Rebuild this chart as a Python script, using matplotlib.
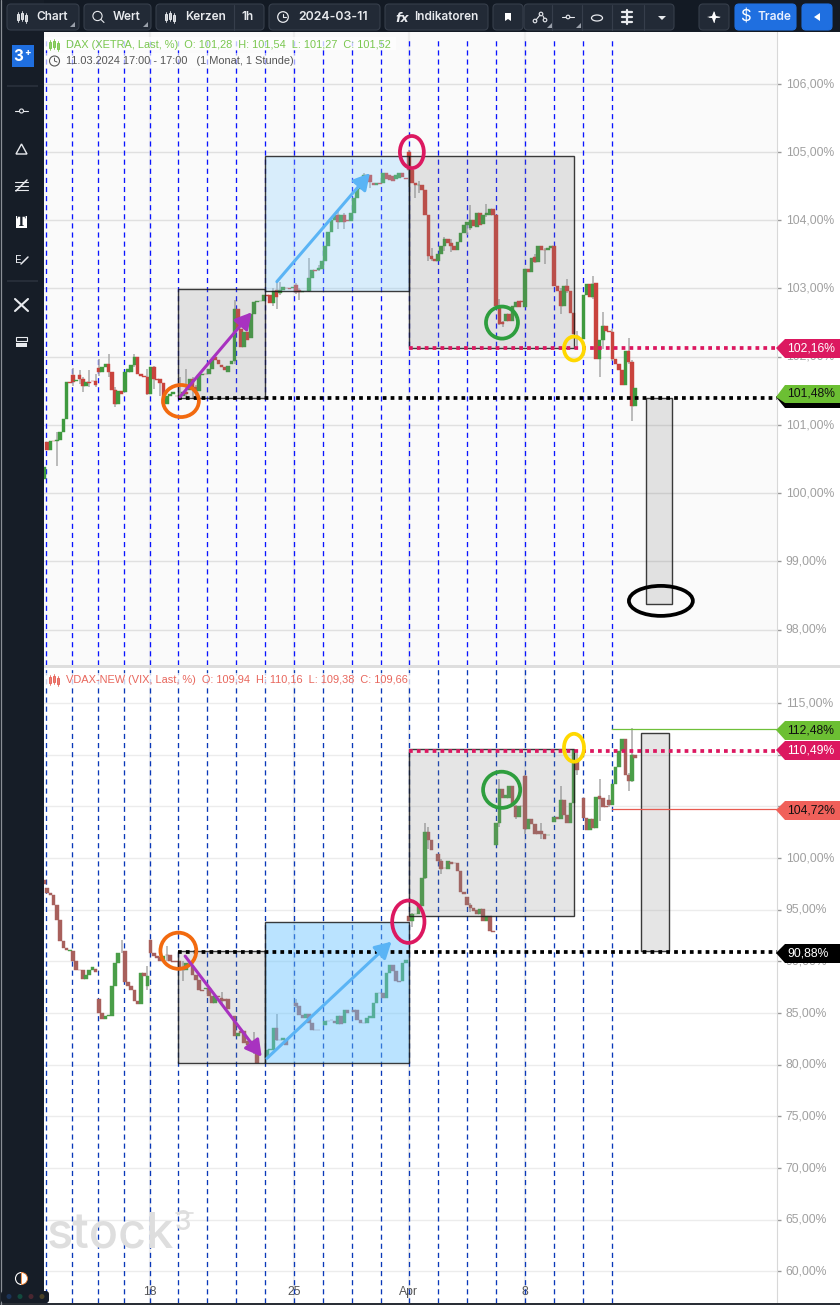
import matplotlib
matplotlib.use("Agg")
import matplotlib.pyplot as plt
from matplotlib.patches import Rectangle, Ellipse, FancyBboxPatch, Polygon, Circle, Wedge
from matplotlib.transforms import ScaledTranslation

plt.rcParams['font.family'] = ['Liberation Sans', 'DejaVu Sans']

# ---------- DAX candles: (bar, open, close) in percent ----------
dax_part1 = [(0,100.21,100.38),(1,100.75,100.63),(2,100.63,100.77),(3,100.77,100.76),(4,100.76,100.78),(5,100.78,100.90),
 (6,100.90,101.09),(7,101.09,101.63),(8,101.63,101.62),(9,101.73,101.63),(10,101.65,101.66),(11,101.73,101.67),
 (12,101.67,101.57),(13,101.57,101.63),(14,101.63,101.62),(15,101.65,101.64),(16,101.65,101.58),(17,101.83,101.78),
 (18,101.78,101.85),(19,101.85,101.89),(20,101.89,101.78),(21,101.78,101.51),(22,101.51,101.30),(23,101.30,101.49),
 (24,101.49,101.46),(25,101.48,101.78),(26,101.78,101.82),(27,101.78,101.88),(28,101.88,102.00),(29,102.00,101.75),
 (30,101.75,101.72),(31,101.72,101.70),(32,101.70,101.46),(33,101.46,101.85),(34,101.85,101.67),(35,101.67,101.66),
 (36,101.67,101.62),(37,101.62,101.31),(38,101.31,101.42),(39,101.42,101.46),(40,101.46,101.48),(41,101.43,101.42),
 (42,101.43,101.44),(43,101.43,101.48),(44,101.48,101.46),(45,101.51,101.67),(46,101.67,101.56),(47,101.56,101.49),
 (48,101.49,101.73),(49,101.73,101.75),(50,101.75,101.74),(51,101.74,101.82),(52,101.82,101.95),(53,102.00,101.95),
 (54,101.95,101.90),(55,101.88,101.85),(56,101.85,101.80),(57,101.78,101.86),(58,101.90,101.93),(59,101.93,102.70),
 (60,102.70,102.41),(61,102.41,102.14),(62,102.14,102.36),(63,102.36,102.24),(64,102.28,102.62),(65,102.62,102.80),
 (66,102.80,102.81),(67,102.81,102.82),(68,102.81,102.90),(69,102.90,102.89),(70,102.90,102.78),(71,102.78,102.96),
 (72,102.98,102.88),(73,102.93,102.98),(74,102.98,103.02),(75,103.01,103.00),(76,103.00,102.99),(77,103.00,103.02),
 (78,103.05,102.95),(79,102.98,102.95),(80,102.95,102.96),(81,102.96,102.97),(82,102.97,103.15),(83,103.15,103.27),
 (84,103.27,103.26),(85,103.27,103.30),(86,103.29,103.41),(87,103.41,103.63),(88,103.63,103.83),(89,103.83,104.00),
 (90,104.00,104.07),(91,104.07,103.97),(92,103.97,104.07),(93,104.07,103.98),(94,104.00,103.99),(95,103.99,104.10),
 (96,104.10,104.32),(97,104.32,104.46),(98,104.46,104.54),(99,104.54,104.66),(100,104.66,104.65),(101,104.66,104.56),
 (102,104.54,104.52),(103,104.52,104.54),(104,104.54,104.53),(105,104.54,104.69),(106,104.69,104.60),(107,104.66,104.59),
 (108,104.65,104.58),(109,104.60,104.66),(110,104.62,104.69),(111,104.69,104.63),(112,104.62,104.61)]
dax_part2 = [(113,105.00,104.73),(114,104.73,104.54),(115,104.54,104.51),(116,104.51,104.52),(117,104.51,104.45),
 (118,104.45,104.08),(119,104.08,103.48),(120,103.48,103.43),(121,103.43,103.41),(122,103.40,103.51),(123,103.51,103.63),
 (124,103.63,103.72),(125,103.72,103.66),(126,103.66,103.63),(127,103.63,103.56),(128,103.56,103.68),(129,103.68,103.82),
 (130,103.82,103.93),(131,103.93,103.97),(132,103.89,104.00),(133,104.00,103.92),(134,103.90,104.10),(135,104.10,103.93),
 (136,103.95,104.08),(137,104.07,104.10),(138,104.08,104.17),(139,104.17,104.08),(140,104.08,102.75),(141,102.75,102.48),
 (142,102.51,102.48),(143,102.52,102.63),(144,102.63,102.53),(145,102.53,102.75),(146,102.73,102.80),(147,102.81,102.73),
 (148,102.81,102.80),(149,102.73,103.28),(150,103.28,103.24),(151,103.24,103.45),(152,103.46,103.39),(153,103.39,103.62),
 (154,103.62,103.57),(155,103.57,103.56),(156,103.56,103.60),(157,103.60,103.62),(158,103.62,103.04),(159,103.04,102.97),
 (160,102.97,102.75),(161,102.75,103.03),(162,103.03,102.96),(163,102.96,102.64),(164,102.64,102.33),(165,102.30,102.28),
 (166,102.26,102.27),(167,102.26,102.91),(168,102.91,103.07),(169,103.07,102.87),(170,102.87,103.07),(171,103.08,101.97),
 (172,101.97,102.24),(173,102.24,102.45),(174,102.45,102.38),(175,102.38,102.36),(176,102.36,101.97),(177,101.97,101.90),
 (178,101.90,101.80),(179,101.80,101.59),(180,101.59,102.08),(181,102.08,101.92),(182,101.92,101.27),(183,101.27,101.54)]
# (bar, low, high)
dax_wicks = [(4,100.40,100.90),(9,101.57,101.83),(11,101.60,101.80),(12,101.48,101.70),(14,101.55,101.80),(16,101.55,101.75),
 (17,101.72,101.97),(20,101.70,102.04),(22,101.26,101.55),(28,101.85,102.04),(32,101.44,101.82),(34,101.52,101.87),
 (36,101.43,101.66),(42,101.40,101.70),(44,101.39,101.82),(46,101.38,101.70),(47,101.42,101.58),(59,101.90,102.83),
 (71,102.75,103.00),(72,102.70,103.10),(73,102.90,103.10),(78,102.92,103.08),(79,102.83,103.00),(82,102.95,103.44),
 (85,103.25,103.34),(91,103.87,104.15),(93,103.87,104.10),(99,104.50,104.70),(101,104.48,104.60),(113,104.49,105.03),
 (115,104.32,104.55),(116,104.40,104.58),(119,103.41,103.66),(120,103.41,103.60),(124,103.55,103.75),(126,103.54,103.73),
 (131,103.78,103.98),(132,103.85,104.22),(137,104.05,104.24),(141,102.46,102.85),(142,102.43,102.52),(152,103.38,103.50),
 (155,103.36,103.60),(160,102.63,103.00),(162,102.94,103.14),(165,102.16,102.38),(170,102.85,103.19),(172,101.70,102.00),
 (173,102.12,102.65),(176,101.93,102.40),(181,101.90,102.27),(182,101.05,101.95)]

# ---------- VDAX-NEW candles: (bar, open, close) in percent ----------
vdax_part1 = [(0,97.90,97.52),(1,97.10,96.61),(2,96.61,96.45),(3,96.45,95.45),(4,95.48,94.03),(5,94.03,91.94),(6,91.94,91.29),
 (7,91.29,91.13),(8,90.97,91.13),(9,90.97,90.00),(10,90.00,89.19),(11,89.19,89.15),(12,89.19,88.32),(13,88.32,88.71),
 (14,88.71,89.19),(15,89.19,89.42),(16,89.30,89.00),(17,86.35,85.00),(18,85.00,84.45),(19,84.45,84.68),(20,84.68,84.84),
 (21,84.68,87.58),(22,87.58,89.84),(23,89.84,90.81),(25,91.03,87.97),(26,87.97,87.58),(27,87.58,87.26),(28,87.26,86.13),
 (29,86.13,85.90),(30,85.90,88.87),(31,88.87,88.55),(32,87.58,88.55),(33,92.10,90.81),(34,90.81,90.48),(35,90.48,90.32),
 (36,90.42,90.00),(37,90.00,90.48),(38,90.65,90.60),(39,90.65,90.00),(40,90.00,89.95),(41,90.00,89.95),(42,90.00,89.19),
 (43,89.19,89.15),(44,89.19,89.84),(45,89.84,89.80),(46,89.52,88.71),(47,88.71,88.23),(48,88.23,87.26),(49,87.26,87.10),
 (50,87.35,87.42),(51,87.42,86.61),(52,86.61,85.97),(53,85.97,86.61),(54,86.61,86.55),(55,86.45,86.13),(56,86.35,86.13),
 (57,86.30,85.42),(59,84.68,82.74),(60,82.74,83.06),(61,83.23,83.06),(62,83.23,82.10),(63,82.26,81.94),(64,82.26,82.20),
 (65,82.10,81.29),(66,81.29,80.16),(69,80.65,81.45),(70,81.45,81.50),(71,81.45,83.55),(72,83.55,82.42),(73,82.42,82.40),
 (74,82.42,82.58),(75,82.42,81.94),(78,85.97,85.65),(79,85.65,84.84),(80,84.84,84.52),(81,84.52,84.90),(82,84.90,84.03),
 (83,84.03,83.39),(84,83.39,83.38),(85,83.39,83.38),(87,83.87,84.26),(88,84.26,84.20),(89,84.35,84.30),(90,84.20,84.03),
 (91,83.97,84.68),(92,84.68,83.97),(93,84.03,85.26),(94,85.26,85.00),(96,85.32,85.10),(97,85.32,84.35),(98,84.35,84.03),
 (99,84.03,84.00),(100,84.03,84.52),(101,84.52,84.68),(102,84.52,85.97),(103,85.97,86.94),(104,86.94,86.90),(105,86.94,86.45),
 (106,86.45,88.87),(107,88.87,89.68),(108,89.68,89.03),(109,89.03,88.06),(110,88.06,88.00),(111,88.06,89.84),(112,89.84,90.16)]
vdax_part2 = [(113,94.41,93.92),(114,93.92,94.57),(115,94.57,94.60),(116,94.57,95.37),(117,95.37,98.10),(118,98.10,102.51),
 (119,102.51,101.74),(120,101.74,100.77),(122,100.35,99.71),(123,99.71,98.97),(124,99.05,99.00),(125,98.97,99.71),
 (126,99.65,99.40),(127,99.55,99.50),(128,99.55,98.71),(129,98.71,96.72),(130,96.72,96.56),(131,96.20,95.45),(132,95.45,95.14),
 (133,95.20,94.87),(134,94.98,94.55),(135,94.55,95.05),(136,95.05,93.92),(137,93.92,94.41),(138,94.41,92.97),(139,92.97,92.80),
 (140,101.22,103.41),(141,103.41,106.69),(142,106.69,105.82),(143,105.82,106.14),(144,105.82,107.00),(145,107.00,105.05),
 (146,105.05,103.96),(147,103.96,105.05),(148,105.05,105.00),(149,107.97,102.77),(150,102.77,103.80),(151,103.80,103.26),
 (152,103.26,102.30),(153,102.60,102.30),(154,102.60,102.30),(155,102.30,101.80),(156,102.20,102.25),(158,103.50,103.96),
 (159,103.96,103.75),(160,103.80,105.66),(161,105.66,104.12),(162,104.12,103.41),(163,103.41,105.34),(164,105.34,110.48),
 (165,109.35,108.50),(167,105.80,103.87),(168,103.87,102.74),(169,102.74,103.80),(170,103.80,102.90),(171,102.90,105.90),
 (172,105.98,105.70),(173,105.80,104.94),(174,105.00,104.93),(175,105.66,105.08),(176,105.08,107.17),(177,107.17,108.78),
 (178,108.78,110.39),(179,110.39,111.50),(180,111.50,108.00),(181,108.00,107.46),(182,107.46,110.00),(183,110.00,109.66)]
vdax_wicks = [(24,90.81,92.10),(32,87.20,89.50),(38,90.00,91.50),(43,88.06,90.00),(55,85.80,87.00),(65,81.00,83.20),
 (72,82.26,84.94),(78,85.50,86.30),(114,93.30,94.70),(118,98.00,103.40),(119,100.84,103.00),(123,98.42,99.90),(132,94.80,95.60),
 (141,103.00,107.65),(146,103.80,105.10),(149,102.30,108.00),(154,101.80,103.40),(160,104.50,107.00),(165,108.00,110.20),
 (172,103.57,107.60),(175,104.90,106.10),(181,106.46,108.20),(182,107.40,112.57)]

# ---------- axis content ----------
dax_ticks = [98, 99, 100, 101, 102, 103, 104, 105, 106]
dax_tick_labels = ['98,00%', '99,00%', '100,00%', '101,00%', '102,00%', '103,00%', '104,00%', '105,00%', '106,00%']
vdax_ticks = [60, 65, 70, 75, 80, 85, 90, 95, 100, 105, 110, 115]
vdax_tick_labels = ['60,00%', '65,00%', '70,00%', '75,00%', '80,00%', '85,00%', '90,00%', '95,00%', '100,00%', '105,00%', '', '115,00%']
day_lines = [0.7, 8.8, 16.8, 24.9, 32.9, 41.6, 50.6, 59.5, 68.5, 77.5, 86.5, 95.4, 104.4, 113, 122.1, 131, 140, 149, 157.9, 166.9, 175.8]
date_ticks = [32.9, 77.5, 113, 149]
date_labels = ['18', '25', 'Apr', '8']

# ---------- drawings in (bar, percent) ----------
dax_boxes = [(41.6, 68.5, 101.40, 102.99, 'grey'), (68.5, 113, 102.96, 104.94, 'blue'),
             (113, 164.1, 102.13, 104.94, 'grey'), (186.3, 194.4, 98.38, 101.40, 'grey')]
vdax_boxes = [(41.6, 68.5, 80.12, 90.96, 'grey'), (68.5, 113, 80.12, 93.77, 'blue'),
              (113, 164.1, 94.38, 110.58, 'grey'), (184.7, 193.6, 91.02, 112.12, 'grey')]
dax_ellipses = [(113.9, 105.00, 7.4, 0.47, '#dc1860'), (42.4, 101.35, 11.1, 0.47, '#f26a0f'),
                (141.8, 102.50, 9.9, 0.47, '#2e9e3e'), (164.1, 102.12, 6.2, 0.35, '#ffd800'), (191, 98.42, 19.8, 0.44, '#000000')]
vdax_ellipses = [(112.8, 93.83, 10, 4.1, '#dc1860'), (41.6, 91.02, 11.1, 3.5, '#f26a0f'),
                 (141.7, 106.6, 11.5, 3.5, '#2e9e3e'), (164.1, 110.67, 6.2, 2.7, '#ffd800')]
dax_arrows = [(42.1, 101.41, 64.3, 102.65, '#a832c0'), (72.1, 103.10, 100.9, 104.69, '#5ab4f5')]
vdax_arrows = [(43.7, 90.5, 67.4, 80.76, '#a832c0'), (69, 80.6, 107.6, 91.9, '#5ab4f5')]
dax_levels = [(113, 102.13, '#dc1860'), (41.6, 101.39, '#000000')]
vdax_levels = [(113, 110.40, '#dc1860'), (41.6, 90.90, '#000000')]
vdax_thin = [(175.8, 112.45, '#6fc03a'), (175.8, 104.70, '#e85a50')]

W, H = 840, 1305
fig = plt.figure(figsize=(W/100, H/100), dpi=100, facecolor='white')

def make_axes(y_top, y_bot, ylim, face):
    ax = fig.add_axes([44/W, 1-y_bot/H, 732.5/W, (y_bot-y_top)/H], facecolor=face)
    ax.set_xlim(0, 226.8)
    ax.set_ylim(*ylim)
    for s in ('top', 'left', 'bottom'):
        ax.spines[s].set_visible(False)
    ax.spines['right'].set_color('#d8d8d8')
    ax.yaxis.tick_right()
    return ax

ax1 = make_axes(32, 665, (97.48, 106.76), '#fafafa')
ax2 = make_axes(668, 1303, (56.92, 118.39), '#ffffff')

def draw(ax, bars, wicks, ticks, labels, boxes, ellipses, arrows, levels, grid, blue, grey_a, green, red, vcol, vtop):
    ax.set_yticks(ticks)
    ax.set_yticklabels(labels)
    ax.tick_params(axis='y', length=3, width=1, color='#999999', labelcolor='#a0a0a0', labelsize=8.7, pad=3.6)
    up = ScaledTranslation(0, 1.3/100, fig.dpi_scale_trans)
    for lab in ax.get_yticklabels():
        lab.set_transform(lab.get_transform() + up)
    ax.grid(axis='y', color=grid, lw=1.0, zorder=0)
    ax.set_axisbelow(True)
    for x in date_ticks:
        ax.axvline(x, color='#eeeeee', lw=1.6, zorder=0.5)
    ax.vlines(day_lines, 0, vtop, transform=ax.get_xaxis_transform(), colors=vcol, lw=0.95,
              linestyles=(0, (3.9, 3.0)), zorder=1)
    for b, lo, hi in wicks:
        ax.vlines(b, lo, hi, color='#aaaaaa', lw=1.1, zorder=1.5)
    for b, o, c in bars:
        ax.vlines(b, min(o, c), max(o, c), color='#aaaaaa', lw=1.1, zorder=1.5)
        h = abs(c-o)
        ax.bar(b, h, bottom=min(o, c), width=1.12, color=green if c >= o else red, lw=0.3,
               edgecolor=green if c >= o else red, zorder=2)
    for x0, x1, y0, y1, kind in boxes:
        fc = blue if kind == 'blue' else (0.5, 0.5, 0.5, grey_a)
        ax.add_patch(Rectangle((x0, y0), x1-x0, y1-y0, fc=fc, ec=(0.1, 0.1, 0.1, 0.85), lw=1.0, zorder=3))
    for x0, y, col in levels:
        ax.plot([x0, 226.8], [y, y], color=col, lw=2.7, ls=(0, (1, 1.1)), zorder=4, dash_capstyle='butt')
    for x, y, w, h, col in ellipses:
        ax.add_patch(Ellipse((x, y), w, h, fc='none', ec=col, lw=2.7, zorder=5))
    for x0, y0, x1, y1, col in arrows:
        ax.annotate('', xy=(x1, y1), xytext=(x0, y0), zorder=5,
                    arrowprops=dict(arrowstyle='-|>,head_length=0.75,head_width=0.42', color=col, lw=2.2,
                                    shrinkA=0, shrinkB=0, mutation_scale=13))

draw(ax1, dax_part1+dax_part2, dax_wicks, dax_ticks, dax_tick_labels, dax_boxes, dax_ellipses, dax_arrows, dax_levels,
     '#e0e0e0', (0.55, 0.82, 1.0, 0.30), 0.2, '#3f9a3f', '#c9433d', '#0a14ff', 0.992)
draw(ax2, vdax_part1+vdax_part2, vdax_wicks, vdax_ticks, vdax_tick_labels, vdax_boxes, vdax_ellipses, vdax_arrows, vdax_levels,
     '#ececec', (0.40, 0.76, 1.0, 0.45), 0.2, '#4a9e48', '#a8605c', '#0a38b8', 1.0)
for x0, y, col in vdax_thin:
    ax2.plot([x0, 226.8], [y, y], color=col, lw=0.9, zorder=3)
ax1.set_xticks([])
ax2.set_xticks(date_ticks)
ax2.set_xticklabels(date_labels)
ax2.tick_params(axis='x', direction='in', length=1.5, color='#999999', labelcolor='#555555', labelsize=8.7, pad=-12)

# ---------- overlay for the application's frame, in image pixels ----------
ov = fig.add_axes([0, 0, 1, 1], facecolor='none', zorder=10)
ov.set_xlim(0, W); ov.set_ylim(H, 0); ov.axis('off')
DARK, BTN, EDGE = '#131a24', '#222a36', '#363e4b'

def rect(x0, y0, x1, y1, fc, ec='none', lw=0, z=1):
    ov.add_patch(Rectangle((x0, y0), x1-x0, y1-y0, fc=fc, ec=ec, lw=lw, zorder=z))
def btn(x0, x1, fc=BTN, ec=EDGE, y0=4, y1=30):
    ov.add_patch(FancyBboxPatch((x0+4, y0+4), x1-x0-8, y1-y0-8, boxstyle='round,pad=4', fc=fc, ec=ec, lw=0.8, zorder=2))
def txt(x, y, s, size=8.5, col='#e8eaee', ha='left', fam='Inter', w='semibold', z=4, **kw):
    ov.text(x, y, s, fontsize=size, color=col, ha=ha, va='center', family=[fam, 'DejaVu Sans'], fontweight=w, zorder=z, **kw)
def line(xs, ys, col='#e8eaee', lw=1.0, z=4):
    ov.plot(xs, ys, color=col, lw=lw, zorder=z, solid_capstyle='round')
def corner(x, y):
    ov.add_patch(Polygon([(x, y), (x-5, y), (x, y-5)], fc='#9aa0aa', zorder=4))
def candle_icon(x, y, col='#e8eaee', lw=1.0):
    for dx, top, bot in ((0, -5, 5), (4, -6, 4), (8, -4, 6)):
        line([x+dx, x+dx], [y+top, y+bot], col, 0.6)
        ov.add_patch(Rectangle((x+dx-1.3, y+top+2), 2.6, bot-top-4, fc='none', ec=col, lw=lw*0.7, zorder=4))

rect(0, 0, W, 32, DARK)
rect(0, 0, 44, H, '#161d27')
line([1.2, 1.2], [0, H], '#8a8f96', 0.9)
rect(0, 1303, W, H, '#2a2f36', z=3)

for x0, x1 in [(7, 79), (84, 151), (156, 264), (269, 380), (385, 488), (493, 523), (524, 674), (699, 729)]:
    btn(x0, x1)
btn(735, 796, fc='#1f6fe0', ec='#1f6fe0'); btn(802, 832, fc='#1f6fe0', ec='#1f6fe0')
for x in (233.5, 552, 582, 612, 643.5):
    line([x, x], [4.5, 29.5], EDGE, 0.8)
candle_icon(18, 17); txt(36, 17, 'Chart')
ov.add_patch(Circle((97.5, 16), 4.6, fc='none', ec='#e8eaee', lw=0.8, zorder=4)); line([101, 104], [19.5, 22.5], lw=0.8); txt(113, 17, 'Wert')
candle_icon(166, 17); txt(185, 17, 'Kerzen'); txt(241, 17, '1h')
ov.add_patch(Circle((283, 17), 5.3, fc='none', ec='#e8eaee', lw=0.9, zorder=4)); line([283, 283, 286], [13.5, 17, 17], lw=0.8)
txt(298, 17, '2024-03-11', size=8.9)
txt(395, 18, 'fx', size=9, fam='DejaVu Sans', w='bold', style='italic'); txt(414, 17, 'Indikatoren')
corner(75, 27); corner(148, 27); corner(552, 28); corner(581, 28)
ov.add_patch(Polygon([(505, 13), (511, 13), (511, 21), (508, 19), (505, 21)], fc='white', zorder=4))
for cx, cy in [(535, 21), (541, 14), (545, 20)]:
    ov.add_patch(Circle((cx, cy), 1.8, fc='none', ec='#e8eaee', lw=0.8, zorder=4))
line([536, 540], [20, 15], lw=0.8); line([543, 544], [16, 18], lw=0.8)
line([562, 574], [17, 17], lw=0.8); ov.add_patch(Circle((568, 17), 1.8, fc=BTN, ec='#e8eaee', lw=0.8, zorder=5))
ov.add_patch(Ellipse((597, 18), 11, 6, fc='none', ec='#e8eaee', lw=0.9, zorder=4))
for y in (12, 17, 22):
    line([622, 632], [y, y], lw=1.6)
line([627, 627], [10, 24], lw=1.6)
ov.add_patch(Polygon([(658, 16), (666, 16), (662, 20)], fc='#e8eaee', zorder=4))
line([709, 719], [17, 17], lw=0.6); line([714, 714], [12, 22], lw=0.6)
ov.add_patch(Polygon([(714, 11), (716, 16), (721, 17), (716, 18), (714, 23), (712, 18), (707, 17), (712, 16)], fc='white', zorder=4))
txt(741, 17, '$', size=12, col='white', w='normal'); txt(757, 17, 'Trade', size=8.6, col='#e8f0ff')
ov.add_patch(Polygon([(820, 13), (820, 21), (814, 17)], fc='white', zorder=4))

# left tools
rect(12, 45, 34, 67, '#1f6fe0', z=2)
txt(23, 56.5, '3', size=11, col='white', ha='right', w='bold'); txt(24, 53, '+', size=7, col='white', w='bold')
for y in (86, 281):
    rect(7, y-1, 38, y+1, '#262d38', z=2)
line([15, 28], [111, 111], lw=0.8); ov.add_patch(Circle((21.5, 111), 2, fc='#161d27', ec='#e8eaee', lw=0.8, zorder=5))
ov.add_patch(Polygon([(21.5, 144), (27, 154), (16, 154)], fc='none', ec='#e8eaee', lw=1, zorder=4))
for y in (182, 186, 190):
    line([15, 28], [y, y], lw=0.8)
line([16, 27], [191, 180], lw=1.1)
rect(16, 216, 27, 228, 'white', z=2); txt(21.5, 222, 'T', size=8.5, col='#161d27', ha='center', fam='DejaVu Serif', w='bold')
txt(15, 260, 'E', size=8, col='#e8eaee', w='normal'); line([21, 28], [264, 257], lw=1.1)
line([15, 28], [299, 311], lw=1.5); line([15, 28], [311, 299], lw=1.5)
rect(16, 337, 27, 341, '#161d27', ec='#e8eaee', lw=0.8, z=2); rect(16, 343, 27, 347, '#e8eaee', z=2)
ov.add_patch(Wedge((21.5, 1278.5), 6, 90, 270, fc='#161d27', ec='white', lw=0.8, zorder=4))
ov.add_patch(Wedge((21.5, 1278.5), 6, 270, 90, fc='white', ec='#f08030', lw=0.6, zorder=4))
ov.add_patch(FancyBboxPatch((4, 1294), 42, 6, boxstyle='round,pad=3', fc='#161d27', ec='none', zorder=5))
for x, c in ((9, '#1a3358'), (20, '#124a3e'), (31, '#4a2630'), (42, '#4a4226')):
    ov.add_patch(Circle((x, 1296.5), 2.5, fc=c, zorder=6))

# headers
rect(44, 37, 396, 50, (1, 1, 1, 0.75), z=2)
rect(44, 53, 300, 68, (1, 1, 1, 0.6), z=2)
rect(44, 673, 412, 687, (1, 1, 1, 0.75), z=2)
GRN = '#7ac74f'; RED = '#e8665c'
HS = 7.88
candle_icon(50, 45, GRN); txt(66.5, 45, 'DAX (XETRA, Last, %)  O: 101,28  H: 101,54  L: 101,27  C: 101,52', size=HS, col=GRN, fam='Liberation Sans', w='normal')
ov.add_patch(Circle((54.5, 61), 5, fc='none', ec='#555555', lw=0.8, zorder=4)); line([54.5, 54.5, 57], [58, 61, 62], '#555555', 0.7)
txt(66.5, 61, '11.03.2024 17:00 - 17:00   (1 Monat, 1 Stunde)', size=HS, col='#555555', fam='Liberation Sans', w='normal')
candle_icon(50, 680, RED); txt(66.5, 680, 'VDAX-NEW (VIX, Last, %)  O: 109,94  H: 110,16  L: 109,38  C: 109,66', size=HS, col=RED, fam='Liberation Sans', w='normal')

# panel separator and watermark
rect(44, 665, 840, 668, '#dedede', z=3)
txt(47, 1235, 'stock', size=35, col='#dedede', fam='Inter', w='medium', z=2)
txt(175, 1223, '3', size=19, col='#dedede', fam='Inter', w='medium', z=2)
line([176, 193], [1213, 1213], '#dedede', 1.2, z=2)

# price tags
def tag(y0, y1, tip, s, fc, tc, shadow=None):
    if shadow:
        ov.add_patch(Polygon([(776, tip), (785, y0+3), (840, y0+3), (840, y1+5), (785, y1+5)], fc=shadow, zorder=5))
    ov.add_patch(Polygon([(776, tip), (785, y0), (840, y0), (840, y1), (785, y1)], fc=fc, zorder=6))
    ov.text(787, (y0+y1)/2, s, fontsize=8.7, color=tc, ha='left', va='center', zorder=7, family=['Liberation Sans'])
tag(339, 358, 348, '102,16%', '#dc1860', 'white')
tag(385, 403, 397, '101,48%', '#6cbf33', '#101010', shadow='#000000')
tag(721, 740, 730, '112,48%', '#6cbf33', '#101010')
tag(741, 760, 750, '110,49%', '#dc1860', 'white')
tag(801, 820, 810, '104,72%', '#f0605a', '#101010')
tag(944, 963, 953, '90,88%', '#000000', 'white')

fig.savefig('out.png', dpi=100)
